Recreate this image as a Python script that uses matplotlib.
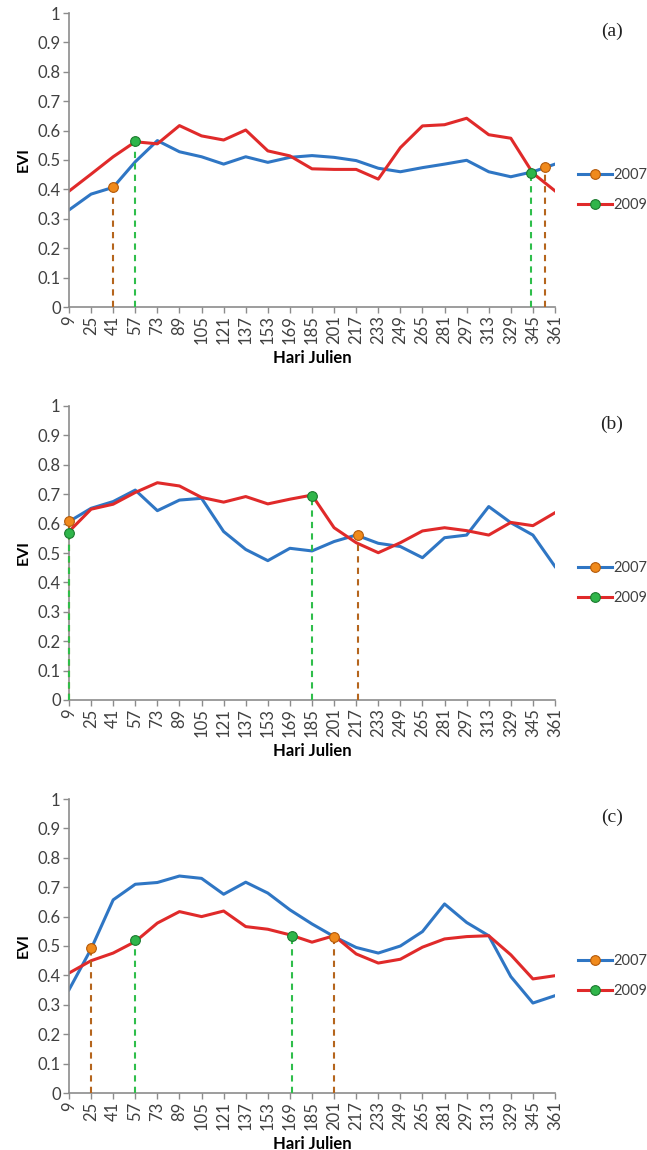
import matplotlib
matplotlib.use('Agg')
import matplotlib.pyplot as plt
from matplotlib.lines import Line2D

plt.rcParams['font.family'] = ['Lato', 'DejaVu Sans']

days = list(range(9, 362, 16))

# panel (a)
a_2007 = [0.33, 0.384, 0.407, 0.494, 0.566, 0.528, 0.511, 0.486, 0.511, 0.492, 0.509, 0.515,
          0.509, 0.498, 0.472, 0.46, 0.474, 0.486, 0.499, 0.46, 0.443, 0.46, 0.486]
a_2009 = [0.394, 0.452, 0.511, 0.562, 0.555, 0.617, 0.582, 0.568, 0.602, 0.531, 0.514, 0.47,
          0.468, 0.468, 0.435, 0.542, 0.616, 0.62, 0.642, 0.586, 0.574, 0.455, 0.395]
a_orange_x = [41, 354]
a_orange_y = [0.409, 0.477]
a_green_x = [57, 343.5]
a_green_y = [0.565, 0.455]

# panel (b)
b_2007 = [0.607, 0.652, 0.675, 0.714, 0.644, 0.68, 0.686, 0.573, 0.512, 0.474, 0.516, 0.507,
          0.539, 0.561, 0.533, 0.522, 0.484, 0.552, 0.561, 0.658, 0.603, 0.561, 0.454]
b_2009 = [0.573, 0.649, 0.666, 0.706, 0.739, 0.728, 0.689, 0.673, 0.692, 0.667, 0.683, 0.697,
          0.586, 0.535, 0.501, 0.535, 0.575, 0.586, 0.576, 0.561, 0.604, 0.593, 0.637]
b_orange_x = [9, 218]
b_orange_y = [0.61, 0.561]
b_green_x = [9, 185]
b_green_y = [0.568, 0.695]

# panel (c)
c_2007 = [0.351, 0.49, 0.657, 0.71, 0.716, 0.738, 0.73, 0.676, 0.717, 0.68, 0.623, 0.575,
          0.532, 0.495, 0.476, 0.5, 0.549, 0.643, 0.58, 0.535, 0.396, 0.306, 0.331]
c_2009 = [0.408, 0.45, 0.476, 0.515, 0.578, 0.617, 0.6, 0.619, 0.566, 0.557, 0.538, 0.513,
          0.535, 0.473, 0.442, 0.455, 0.496, 0.524, 0.532, 0.535, 0.47, 0.388, 0.399]
c_orange_x = [25, 201]
c_orange_y = [0.493, 0.532]
c_green_x = [57, 170.5]
c_green_y = [0.52, 0.535]

panels = [
    ('(a)', a_2007, a_2009, a_orange_x, a_orange_y, a_green_x, a_green_y),
    ('(b)', b_2007, b_2009, b_orange_x, b_orange_y, b_green_x, b_green_y),
    ('(c)', c_2007, c_2009, c_orange_x, c_orange_y, c_green_x, c_green_y),
]

blue = '#2f76c4'
red = '#e02a2a'
orange = '#f08a1c'
orange_edge = '#b45a0a'
green = '#2fb54a'
green_edge = '#1b7a2e'
orange_dash = '#b5651d'
green_dash = '#2fbe4b'
gray = '#8c8c8c'
text_col = '#404040'

W, H = 647, 1150
fig = plt.figure(figsize=(W / 100, H / 100), dpi=100)

bottoms_px = [307, 700, 1093]
left_px, right_px = 69, 555
height_px = 294

for (tag, y07, y09, ox, oy, gx, gy), bot in zip(panels, bottoms_px):
    ax = fig.add_axes([left_px / W, 1 - bot / H, (right_px - left_px) / W, height_px / H])
    ax.plot(days, y07, color=blue, lw=2.2, solid_joinstyle='round')
    ax.plot(days, y09, color=red, lw=2.2, solid_joinstyle='round')

    # dashed drop lines
    for x, y in zip(ox, oy):
        ax.plot([x, x], [0, y], color=orange_dash, lw=1.5, ls=(0, (3, 2.5)), clip_on=False, zorder=3)
    for x, y in zip(gx, gy):
        ax.plot([x, x], [0, y], color=green_dash, lw=1.5, ls=(0, (3, 2.5)), clip_on=False, zorder=3)
    ax.plot(ox, oy, 'o', ms=7, mfc=orange, mec=orange_edge, mew=0.8, clip_on=False, zorder=5)
    ax.plot(gx, gy, 'o', ms=7, mfc=green, mec=green_edge, mew=0.8, clip_on=False, zorder=5)

    ax.set_xlim(9, 361)
    ax.set_ylim(0, 1)
    ax.set_xticks(days)
    ax.set_xticklabels([str(d) for d in days], rotation=90)
    ax.set_yticks([i / 10 for i in range(11)])
    ax.set_yticklabels(['0'] + ['0.%d' % i for i in range(1, 10)] + ['1'])
    ax.tick_params(axis='both', colors=gray, labelcolor=text_col, labelsize=12,
                   length=4, width=1, pad=2)
    for s in ['top', 'right']:
        ax.spines[s].set_visible(False)
    for s in ['left', 'bottom']:
        ax.spines[s].set_color(gray)
        ax.spines[s].set_linewidth(1.2)

    ax.set_ylabel('EVI', fontweight='bold', fontsize=11.5, color='black', labelpad=5)
    ax.set_xlabel('Hari Julien', fontweight='bold', fontsize=12, color='black', labelpad=4)

    # panel tag
    fig.text(612 / W, 1 - (bot - 276) / H, tag, family='Liberation Serif', fontsize=14,
             ha='center', va='center', color='#222222')

    handles = [
        Line2D([0], [0], color=blue, lw=2.2, marker='o', ms=7, mfc=orange, mec=orange_edge, mew=0.8),
        Line2D([0], [0], color=red, lw=2.2, marker='o', ms=7, mfc=green, mec=green_edge, mew=0.8),
    ]
    fig.legend(handles, ['2007', '2009'], loc='center left',
               bbox_to_anchor=(578 / W, 1 - (bot - 117) / H), frameon=False,
               fontsize=10.5, handlelength=2.3, handletextpad=0.15, labelspacing=1.05,
               borderpad=0, borderaxespad=0, labelcolor=text_col)

fig.savefig('out.png', dpi=100)
